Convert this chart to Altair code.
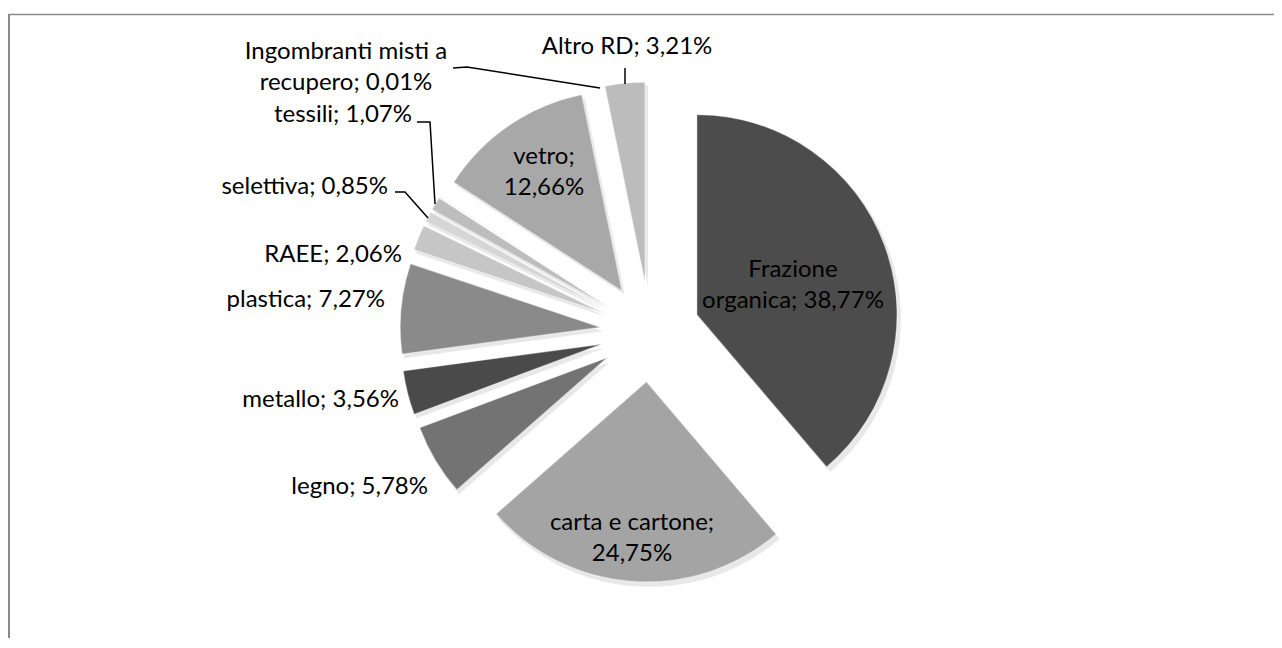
import altair as alt
import pandas as pd

# ---- data ----
categorie = ["Frazione organica", "carta e cartone", "legno", "metallo", "plastica",
             "RAEE", "selettiva", "tessili", "Ingombranti misti a recupero", "vetro", "Altro RD"]
percentuali = [38.77, 24.75, 5.78, 3.56, 7.27, 2.06, 0.85, 1.07, 0.01, 12.66, 3.21]
grigi = ["#4c4c4c", "#a4a4a4", "#737373", "#4a4a4a", "#8a8a8a",
         "#c6c6c6", "#d6d6d6", "#bdbdbd", "#bdbdbd", "#a8a8a8", "#bcbcbc"]
a_capo = [("Frazione ", "Frazione\n"), ("; ", ";\n"), None, None, None,
          None, None, None, ("a recupero", "a\nrecupero"), ("; ", ";\n"), None]

# ---- layout (screen px of label anchors and leader lines) ----
OFF = 8
CX, CY = 650 - OFF, 332 - OFF
R = 200
EXPLODE = 50
lab_x = [793, 632, 428, 399, 385, 402, 388, 412, 346, 544, 627]
lab_y = [270, 523, 487, 400, 300, 255, 187, 115, 52, 157, 47]
lab_al = ["center", "center", "right", "right", "right", "right", "right", "right",
          "center", "center", "center"]
leader_id = [0, 0, 0, 1, 1, 2, 2, 2, 3, 3, 3]
leader_x = [453, 467, 600, 625, 625, 417, 430, 435, 395, 405, 428]
leader_y = [68, 67, 88, 68, 84, 122, 122, 204, 192, 192, 218]


def fmt(v):
    return f"{v:.2f}".replace(".", ",") + "%"


etichette = []
for c, v, br in zip(categorie, percentuali, a_capo):
    t = f"{c}; {fmt(v)}"
    if br:
        t = t.replace(br[0], br[1], 1)
    etichette.append(t)

df = pd.DataFrame({
    "categoria": categorie,
    "percentuale": percentuali,
    "colore": grigi,
    "ordine": list(range(len(categorie))),
    "etichetta": etichette,
    "lx": [x - OFF for x in lab_x],
    "ly": [y - OFF for y in lab_y],
    "al": lab_al,
})

base = (
    alt.Chart(df)
    .transform_joinaggregate(totale="sum(percentuale)")
    .transform_window(cum="sum(percentuale)", sort=[alt.SortField("ordine")], frame=[None, 0])
    .transform_calculate(a1="2*PI*datum.cum/datum.totale")
    .transform_calculate(a0="2*PI*(datum.cum-datum.percentuale)/datum.totale")
    .transform_calculate(mid="(datum.a0+datum.a1)/2")
    .transform_calculate(cx=f"{CX}+{EXPLODE}*sin(datum.mid)")
    .transform_calculate(cy=f"{CY}-{EXPLODE}*cos(datum.mid)")
)

enc = dict(
    x=alt.X("cx:Q", scale=None, axis=None),
    y=alt.Y("cy:Q", scale=None, axis=None),
    theta=alt.Theta("a0:Q", scale=None, stack=None),
    theta2="a1:Q",
)

shadow = base.mark_arc(radius=R + 1, xOffset=3, yOffset=4, color="#000000", opacity=0.09).encode(**enc)
slices = base.mark_arc(radius=R, stroke="#ffffff", strokeOpacity=0.35, strokeWidth=1.2).encode(
    color=alt.Color("colore:N", scale=None, legend=None), **enc
)

font = "Lato"
FS = 24
txt_center = alt.Chart(df).transform_filter("datum.al == 'center'").mark_text(
    font=font, fontSize=FS, align="center", baseline="middle", lineBreak="\n",
    lineHeight=31, color="#000000"
).encode(
    x=alt.X("lx:Q", scale=None, axis=None),
    y=alt.Y("ly:Q", scale=None, axis=None),
    text="etichetta:N",
)
txt_right = alt.Chart(df).transform_filter("datum.al == 'right'").mark_text(
    font=font, fontSize=FS, align="right", baseline="middle", color="#000000"
).encode(
    x=alt.X("lx:Q", scale=None, axis=None),
    y=alt.Y("ly:Q", scale=None, axis=None),
    text="etichetta:N",
)

ldf = pd.DataFrame({
    "id": leader_id,
    "n": list(range(len(leader_id))),
    "x": [x - OFF for x in leader_x],
    "y": [y - OFF for y in leader_y],
})
leaders = alt.Chart(ldf).mark_line(color="#000000", strokeWidth=1.5).encode(
    x=alt.X("x:Q", scale=None, axis=None),
    y=alt.Y("y:Q", scale=None, axis=None),
    detail="id:N",
    order="n:Q",
)

one = pd.DataFrame({"k": [0]})
W, H = 1266, 630
border_top = alt.Chart(one).mark_rule(color="#8a8a8a", strokeWidth=1.5).encode(
    x=alt.value(0), x2=alt.value(W), y=alt.value(6.5)
)
border_left = alt.Chart(one).mark_rule(color="#8a8a8a", strokeWidth=2).encode(
    x=alt.value(1), y=alt.value(6), y2=alt.value(H)
)

chart = alt.layer(
    shadow, slices, leaders, txt_center, txt_right, border_top, border_left
).properties(
    width=W, height=H, padding=0, autosize=alt.AutoSizeParams(type="none")
).configure_view(strokeWidth=0)

chart.save("out.html", embed_options={"renderer": "svg", "actions": False})
